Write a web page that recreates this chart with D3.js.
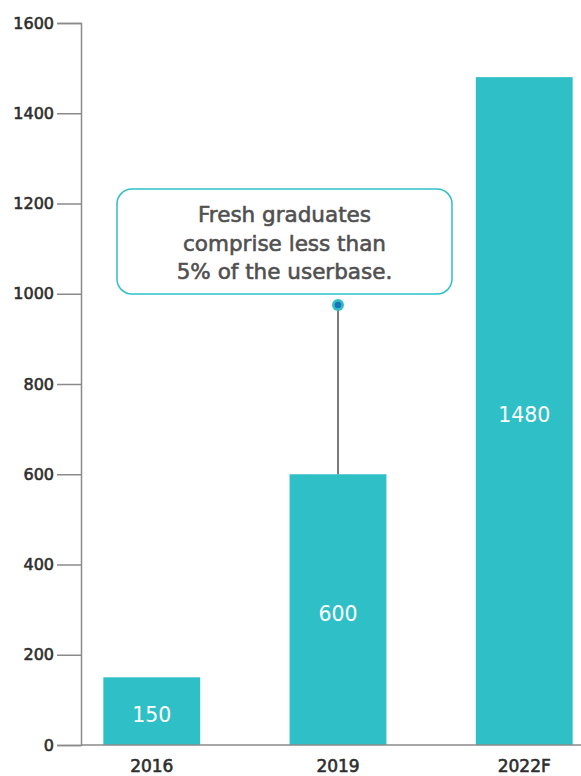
<!DOCTYPE html>
<html><head><meta charset="utf-8">
<script src="https://cdn.jsdelivr.net/npm/d3@7"></script>
<style>
body{margin:0;background:#fff;}
svg{display:block;font-family:"DejaVu Sans",Arial,sans-serif;}
</style></head>
<body><svg id="c" width="581" height="776"></svg>
<script>
const categories = ["2016", "2019", "2022F"];
const values = [150, 600, 1480];
const yTicks = [0, 200, 400, 600, 800, 1000, 1200, 1400, 1600];
const annotationLines = ["Fresh graduates", "comprise less than", "5% of the userbase."];
const annotationCategory = "2019";
const annotationValue = 975;

const svg = d3.select("#c");
const teal = "#2fbfc7";
const axisCol = "#8a8a8a";
const FONT = "'DejaVu Sans', Arial, sans-serif";

const y = d3.scaleLinear().domain([0, 1600]).range([745, 23]);
const x = d3.scaleBand().domain(categories).range([81, 595]).paddingInner(0.48).paddingOuter(0.12);

// y axis
const yAxis = svg.append("g").attr("transform", "translate(81,0)")
  .call(d3.axisLeft(y).tickValues(yTicks).tickSize(24).tickPadding(3).tickFormat(d3.format("d")));
yAxis.attr("font-family", FONT).attr("font-size", 16);
yAxis.select(".domain").attr("stroke", axisCol).attr("stroke-width", 1.5);
yAxis.selectAll(".tick line").attr("stroke", axisCol).attr("stroke-width", 1.5);
yAxis.selectAll(".tick text").attr("fill", "#2e2e2e").attr("stroke", "#2e2e2e").attr("stroke-width", 0.6);

// bars
svg.append("g").selectAll("rect").data(values).join("rect")
  .attr("x", (d, i) => x(categories[i]))
  .attr("width", x.bandwidth())
  .attr("y", d => y(d))
  .attr("height", d => y(0) - y(d))
  .attr("fill", teal);

// x axis
const xAxis = svg.append("g").attr("transform", "translate(0,745)")
  .call(d3.axisBottom(x).tickSize(0).tickPadding(15));
xAxis.attr("font-family", FONT).attr("font-size", 17);
xAxis.select(".domain").attr("stroke", axisCol).attr("stroke-width", 1.5).attr("d", "M81,0H581");
xAxis.selectAll(".tick text").attr("fill", "#2e2e2e").attr("stroke", "#2e2e2e").attr("stroke-width", 0.6);

// value labels
svg.append("g").selectAll("text").data(values).join("text")
  .attr("x", (d, i) => x(categories[i]) + x.bandwidth() / 2)
  .attr("y", d => (y(d) + y(0)) / 2 + 4)
  .attr("dy", "0.35em")
  .attr("text-anchor", "middle")
  .attr("fill", "#fff")
  .attr("font-family", FONT)
  .attr("font-size", 20.5)
  .text(d => d);

// annotation
const ax = x(annotationCategory) + x.bandwidth() / 2;
const aIdx = categories.indexOf(annotationCategory);
svg.append("line").attr("x1", ax).attr("x2", ax)
  .attr("y1", y(annotationValue)).attr("y2", y(values[aIdx]))
  .attr("stroke", "#7a7a7a").attr("stroke-width", 2);
svg.append("circle").attr("cx", ax).attr("cy", y(annotationValue)).attr("r", 6).attr("fill", teal);
svg.append("circle").attr("cx", ax).attr("cy", y(annotationValue)).attr("r", 3.3).attr("fill", "#1b72b8");

const box = {x: 117, y: 189, w: 335, h: 105};
svg.append("rect").attr("x", box.x).attr("y", box.y).attr("width", box.w).attr("height", box.h)
  .attr("rx", 15).attr("fill", "#fff").attr("stroke", teal).attr("stroke-width", 1.5);
svg.append("g").selectAll("text").data(annotationLines).join("text")
  .attr("x", box.x + box.w / 2)
  .attr("y", (d, i) => 222 + i * 28.5)
  .attr("text-anchor", "middle")
  .attr("fill", "#505050")
  .attr("stroke", "#505050").attr("stroke-width", 0.6)
  .attr("font-family", FONT)
  .attr("font-size", 21.5)
  .text(d => d);
</script></body></html>
